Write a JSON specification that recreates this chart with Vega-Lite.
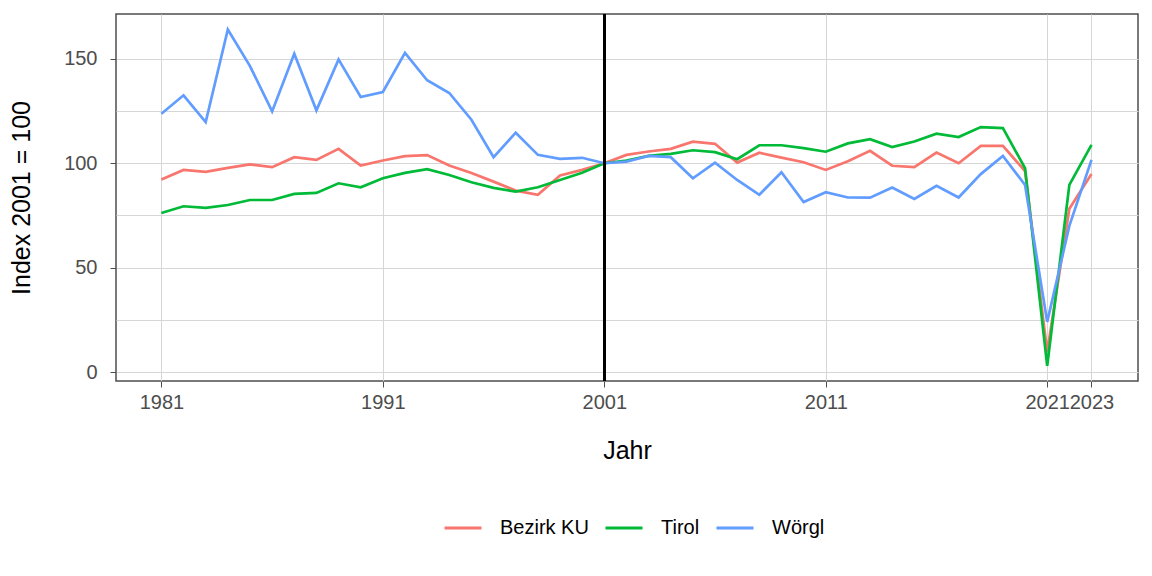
{
  "$schema": "https://vega.github.io/schema/vega-lite/v6.json",
  "width": 1022,
  "height": 367,
  "autosize": {"type": "none"},
  "padding": {"left": 116, "top": 14, "right": 14, "bottom": 195},
  "background": "white",
  "config": {
    "font": "Liberation Sans",
    "view": {"stroke": "#4d4d4d", "strokeWidth": 1.5},
    "axis": {
      "grid": true,
      "gridColor": "#d6d6d6",
      "gridWidth": 1,
      "domain": false,
      "tickColor": "#4d4d4d",
      "tickSize": 6,
      "tickWidth": 1,
      "labelColor": "#4d4d4d",
      "labelFont": "Liberation Sans",
      "labelFontSize": 20,
      "labelPadding": 5,
      "titleFont": "Liberation Sans",
      "titleFontSize": 25,
      "titleFontWeight": "normal",
      "titleColor": "black"
    }
  },
  "datasets": {
    "index": [
      {"Jahr": 1981, "Region": "Bezirk KU", "Index": 92.2},
      {"Jahr": 1982, "Region": "Bezirk KU", "Index": 96.8},
      {"Jahr": 1983, "Region": "Bezirk KU", "Index": 95.9},
      {"Jahr": 1984, "Region": "Bezirk KU", "Index": 97.8},
      {"Jahr": 1985, "Region": "Bezirk KU", "Index": 99.4},
      {"Jahr": 1986, "Region": "Bezirk KU", "Index": 98.1},
      {"Jahr": 1987, "Region": "Bezirk KU", "Index": 102.9},
      {"Jahr": 1988, "Region": "Bezirk KU", "Index": 101.6},
      {"Jahr": 1989, "Region": "Bezirk KU", "Index": 106.9},
      {"Jahr": 1990, "Region": "Bezirk KU", "Index": 98.9},
      {"Jahr": 1991, "Region": "Bezirk KU", "Index": 101.3},
      {"Jahr": 1992, "Region": "Bezirk KU", "Index": 103.4},
      {"Jahr": 1993, "Region": "Bezirk KU", "Index": 103.9},
      {"Jahr": 1994, "Region": "Bezirk KU", "Index": 98.9},
      {"Jahr": 1995, "Region": "Bezirk KU", "Index": 95.3},
      {"Jahr": 1996, "Region": "Bezirk KU", "Index": 91.2},
      {"Jahr": 1997, "Region": "Bezirk KU", "Index": 86.9},
      {"Jahr": 1998, "Region": "Bezirk KU", "Index": 84.9},
      {"Jahr": 1999, "Region": "Bezirk KU", "Index": 94.1},
      {"Jahr": 2000, "Region": "Bezirk KU", "Index": 96.8},
      {"Jahr": 2001, "Region": "Bezirk KU", "Index": 100},
      {"Jahr": 2002, "Region": "Bezirk KU", "Index": 104.0},
      {"Jahr": 2003, "Region": "Bezirk KU", "Index": 105.6},
      {"Jahr": 2004, "Region": "Bezirk KU", "Index": 106.9},
      {"Jahr": 2005, "Region": "Bezirk KU", "Index": 110.3},
      {"Jahr": 2006, "Region": "Bezirk KU", "Index": 109.3},
      {"Jahr": 2007, "Region": "Bezirk KU", "Index": 100.3},
      {"Jahr": 2008, "Region": "Bezirk KU", "Index": 105.0},
      {"Jahr": 2009, "Region": "Bezirk KU", "Index": 102.7},
      {"Jahr": 2010, "Region": "Bezirk KU", "Index": 100.5},
      {"Jahr": 2011, "Region": "Bezirk KU", "Index": 96.8},
      {"Jahr": 2012, "Region": "Bezirk KU", "Index": 101.0},
      {"Jahr": 2013, "Region": "Bezirk KU", "Index": 105.9},
      {"Jahr": 2014, "Region": "Bezirk KU", "Index": 98.8},
      {"Jahr": 2015, "Region": "Bezirk KU", "Index": 98.1},
      {"Jahr": 2016, "Region": "Bezirk KU", "Index": 105.1},
      {"Jahr": 2017, "Region": "Bezirk KU", "Index": 100.0},
      {"Jahr": 2018, "Region": "Bezirk KU", "Index": 108.3},
      {"Jahr": 2019, "Region": "Bezirk KU", "Index": 108.3},
      {"Jahr": 2020, "Region": "Bezirk KU", "Index": 96.2},
      {"Jahr": 2021, "Region": "Bezirk KU", "Index": 9.7},
      {"Jahr": 2022, "Region": "Bezirk KU", "Index": 78.2},
      {"Jahr": 2023, "Region": "Bezirk KU", "Index": 94.8},
      {"Jahr": 1981, "Region": "Tirol", "Index": 76.2},
      {"Jahr": 1982, "Region": "Tirol", "Index": 79.4},
      {"Jahr": 1983, "Region": "Tirol", "Index": 78.6},
      {"Jahr": 1984, "Region": "Tirol", "Index": 80.0},
      {"Jahr": 1985, "Region": "Tirol", "Index": 82.4},
      {"Jahr": 1986, "Region": "Tirol", "Index": 82.4},
      {"Jahr": 1987, "Region": "Tirol", "Index": 85.3},
      {"Jahr": 1988, "Region": "Tirol", "Index": 85.8},
      {"Jahr": 1989, "Region": "Tirol", "Index": 90.4},
      {"Jahr": 1990, "Region": "Tirol", "Index": 88.5},
      {"Jahr": 1991, "Region": "Tirol", "Index": 92.8},
      {"Jahr": 1992, "Region": "Tirol", "Index": 95.4},
      {"Jahr": 1993, "Region": "Tirol", "Index": 97.2},
      {"Jahr": 1994, "Region": "Tirol", "Index": 94.4},
      {"Jahr": 1995, "Region": "Tirol", "Index": 90.9},
      {"Jahr": 1996, "Region": "Tirol", "Index": 88.2},
      {"Jahr": 1997, "Region": "Tirol", "Index": 86.4},
      {"Jahr": 1998, "Region": "Tirol", "Index": 88.5},
      {"Jahr": 1999, "Region": "Tirol", "Index": 92.0},
      {"Jahr": 2000, "Region": "Tirol", "Index": 95.4},
      {"Jahr": 2001, "Region": "Tirol", "Index": 100},
      {"Jahr": 2002, "Region": "Tirol", "Index": 101.3},
      {"Jahr": 2003, "Region": "Tirol", "Index": 103.5},
      {"Jahr": 2004, "Region": "Tirol", "Index": 104.5},
      {"Jahr": 2005, "Region": "Tirol", "Index": 106.2},
      {"Jahr": 2006, "Region": "Tirol", "Index": 105.3},
      {"Jahr": 2007, "Region": "Tirol", "Index": 101.9},
      {"Jahr": 2008, "Region": "Tirol", "Index": 108.6},
      {"Jahr": 2009, "Region": "Tirol", "Index": 108.6},
      {"Jahr": 2010, "Region": "Tirol", "Index": 107.2},
      {"Jahr": 2011, "Region": "Tirol", "Index": 105.5},
      {"Jahr": 2012, "Region": "Tirol", "Index": 109.5},
      {"Jahr": 2013, "Region": "Tirol", "Index": 111.5},
      {"Jahr": 2014, "Region": "Tirol", "Index": 107.7},
      {"Jahr": 2015, "Region": "Tirol", "Index": 110.4},
      {"Jahr": 2016, "Region": "Tirol", "Index": 114.1},
      {"Jahr": 2017, "Region": "Tirol", "Index": 112.5},
      {"Jahr": 2018, "Region": "Tirol", "Index": 117.3},
      {"Jahr": 2019, "Region": "Tirol", "Index": 116.8},
      {"Jahr": 2020, "Region": "Tirol", "Index": 97.6},
      {"Jahr": 2021, "Region": "Tirol", "Index": 3.0},
      {"Jahr": 2022, "Region": "Tirol", "Index": 89.6},
      {"Jahr": 2023, "Region": "Tirol", "Index": 108.8},
      {"Jahr": 1981, "Region": "Wörgl", "Index": 123.7},
      {"Jahr": 1982, "Region": "Wörgl", "Index": 132.5},
      {"Jahr": 1983, "Region": "Wörgl", "Index": 119.7},
      {"Jahr": 1984, "Region": "Wörgl", "Index": 164.0},
      {"Jahr": 1985, "Region": "Wörgl", "Index": 146.5},
      {"Jahr": 1986, "Region": "Wörgl", "Index": 124.8},
      {"Jahr": 1987, "Region": "Wörgl", "Index": 152.4},
      {"Jahr": 1988, "Region": "Wörgl", "Index": 125.3},
      {"Jahr": 1989, "Region": "Wörgl", "Index": 149.7},
      {"Jahr": 1990, "Region": "Wörgl", "Index": 131.7},
      {"Jahr": 1991, "Region": "Wörgl", "Index": 134.1},
      {"Jahr": 1992, "Region": "Wörgl", "Index": 152.8},
      {"Jahr": 1993, "Region": "Wörgl", "Index": 139.7},
      {"Jahr": 1994, "Region": "Wörgl", "Index": 133.6},
      {"Jahr": 1995, "Region": "Wörgl", "Index": 120.8},
      {"Jahr": 1996, "Region": "Wörgl", "Index": 102.9},
      {"Jahr": 1997, "Region": "Wörgl", "Index": 114.6},
      {"Jahr": 1998, "Region": "Wörgl", "Index": 104.0},
      {"Jahr": 1999, "Region": "Wörgl", "Index": 102.1},
      {"Jahr": 2000, "Region": "Wörgl", "Index": 102.6},
      {"Jahr": 2001, "Region": "Wörgl", "Index": 100},
      {"Jahr": 2002, "Region": "Wörgl", "Index": 100.8},
      {"Jahr": 2003, "Region": "Wörgl", "Index": 103.5},
      {"Jahr": 2004, "Region": "Wörgl", "Index": 102.9},
      {"Jahr": 2005, "Region": "Wörgl", "Index": 92.8},
      {"Jahr": 2006, "Region": "Wörgl", "Index": 100.3},
      {"Jahr": 2007, "Region": "Wörgl", "Index": 92.0},
      {"Jahr": 2008, "Region": "Wörgl", "Index": 84.9},
      {"Jahr": 2009, "Region": "Wörgl", "Index": 95.7},
      {"Jahr": 2010, "Region": "Wörgl", "Index": 81.4},
      {"Jahr": 2011, "Region": "Wörgl", "Index": 86.1},
      {"Jahr": 2012, "Region": "Wörgl", "Index": 83.6},
      {"Jahr": 2013, "Region": "Wörgl", "Index": 83.5},
      {"Jahr": 2014, "Region": "Wörgl", "Index": 88.4},
      {"Jahr": 2015, "Region": "Wörgl", "Index": 82.9},
      {"Jahr": 2016, "Region": "Wörgl", "Index": 89.2},
      {"Jahr": 2017, "Region": "Wörgl", "Index": 83.6},
      {"Jahr": 2018, "Region": "Wörgl", "Index": 94.8},
      {"Jahr": 2019, "Region": "Wörgl", "Index": 103.5},
      {"Jahr": 2020, "Region": "Wörgl", "Index": 89.6},
      {"Jahr": 2021, "Region": "Wörgl", "Index": 24.1},
      {"Jahr": 2022, "Region": "Wörgl", "Index": 70.0},
      {"Jahr": 2023, "Region": "Wörgl", "Index": 101.6}
    ]
  },
  "data": {"name": "index"},
  "layer": [
    {
      "mark": {"type": "line", "strokeWidth": 2.7, "clip": true},
      "encoding": {
        "x": {
          "field": "Jahr",
          "type": "quantitative",
          "title": "Jahr",
          "scale": {"domain": [1978.95, 2025.1], "nice": false, "zero": false},
          "axis": {
            "values": [1981, 1991, 2001, 2011, 2021, 2023],
            "format": "d",
            "labelFlush": false,
            "labelOverlap": false,
            "titlePadding": 26
          }
        },
        "y": {
          "field": "Index",
          "type": "quantitative",
          "title": "Index 2001 = 100",
          "scale": {"domain": [-4.2, 171.4], "nice": false, "zero": false},
          "axis": {
            "values": [0, 25, 50, 75, 100, 125, 150],
            "labelExpr": "datum.value % 50 == 0 ? datum.label : ''",
            "tickOpacity": {"condition": {"test": "datum.value % 50 != 0", "value": 0}, "value": 1},
            "labelFlush": false,
            "labelPadding": 13,
            "titlePadding": 29
          }
        },
        "color": {
          "field": "Region",
          "type": "nominal",
          "scale": {"domain": ["Bezirk KU", "Tirol", "Wörgl"], "range": ["#F8766D", "#00BA38", "#619CFF"]},
          "legend": {
            "title": null,
            "orient": "none",
            "direction": "horizontal",
            "legendX": 327,
            "legendY": 494,
            "symbolType": "stroke",
            "symbolSize": 1369,
            "symbolStrokeWidth": 3,
            "labelFont": "Liberation Sans",
            "labelFontSize": 20,
            "labelColor": "black",
            "labelOffset": 17,
            "columnPadding": 10
          }
        }
      }
    },
    {
      "mark": {"type": "rule", "color": "black", "strokeWidth": 1.8},
      "encoding": {"x": {"datum": 2001}}
    }
  ]
}
